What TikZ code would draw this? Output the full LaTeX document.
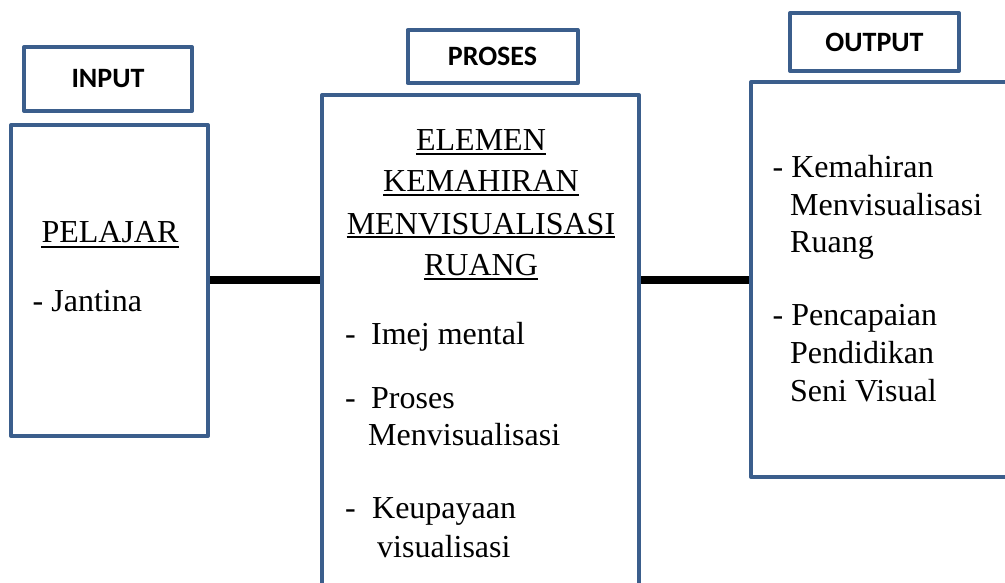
\documentclass[tikz,border=0pt]{standalone}
\usepackage{fontspec}
\setmainfont{Liberation Serif}
\newfontfamily\labelfont{Carlito}
\definecolor{boxblue}{HTML}{3B5E8C}
\tikzset{
  frame/.style={draw=boxblue, line width=4pt, line join=round, rectangle, inner sep=0pt, fill=none},
  link/.style={draw=black, line width=8pt},
  hdr/.style={font=\labelfont\bfseries\fontsize{28}{32}\selectfont, inner sep=0pt},
  txt/.style={font=\fontsize{32}{38}\selectfont, inner sep=0pt},
  uline/.style={draw=black, line width=2pt}
}
\begin{document}
\begin{tikzpicture}[x=1pt,y=-1pt]
\useasboundingbox (0,0) rectangle (1005,583);
\clip (0,0) rectangle (1005,583);
% boxes
\node[frame, minimum width=168pt, minimum height=64pt] (inhdr) at (108,79) {};
\node[frame, minimum width=197pt, minimum height=311pt] (input) at (109.5,280.5) {};
\node[frame, minimum width=170pt, minimum height=53pt] (prohdr) at (492.5,56.5) {};
\node[frame, minimum width=317pt, minimum height=515pt] (proses) at (480.5,352.5) {};
\node[frame, minimum width=169pt, minimum height=58pt] (outhdr) at (874.5,42) {};
\node[frame, minimum width=264pt, minimum height=395pt] (output) at (883,279.5) {};
% header labels
\node[hdr] (inlbl) at (inhdr.center) {INPUT};
\node[hdr] (prolbl) at (prohdr.center) {PROSES};
\node[hdr] (outlbl) at (outhdr.center) {OUTPUT};
% connectors
\draw[link] (input.east |- 0,280) -- (proses.west |- 0,280);
\draw[link] (proses.east |- 0,280) -- (output.west |- 0,280);
% input text
\node[txt, anchor=base] (pelajar) at (110,243) {PELAJAR};
\draw[uline] ([yshift=-4pt]pelajar.base west) -- ([yshift=-4pt]pelajar.base east);
\node[txt, anchor=base west] (jantina) at (32.5,311) {- Jantina};
% proses text
\node[txt, anchor=base] (t1) at (481,151) {ELEMEN};
\node[txt, anchor=base] (t2) at (481,192) {KEMAHIRAN};
\node[txt, anchor=base] (t3) at (481,234) {MENVISUALISASI};
\node[txt, anchor=base] (t4) at (481,276) {RUANG};
\foreach \n in {t1,t2,t3,t4}{
  \draw[uline] ([yshift=-3pt]\n.base west) -- ([yshift=-3pt]\n.base east);
}
\node[txt, anchor=base west] (p1) at (345,344) {\makebox[26pt][l]{-}Imej mental};
\node[txt, anchor=base west] (p2) at (345,408) {\makebox[26pt][l]{-}Proses};
\node[txt, anchor=base west] (p2b) at (368,445) {Menvisualisasi};
\node[txt, anchor=base west] (p3) at (345,518) {\makebox[27pt][l]{-}Keupayaan};
\node[txt, anchor=base west] (p3b) at (377,557) {visualisasi};
% output text
\node[txt, anchor=base west] (o1) at (772.5,178) {- Kemahiran};
\node[txt, anchor=base west] (o1b) at (790,216) {Menvisualisasi};
\node[txt, anchor=base west] (o1c) at (790,252) {Ruang};
\node[txt, anchor=base west] (o2) at (772.5,325) {- Pencapaian};
\node[txt, anchor=base west] (o2b) at (790,363) {Pendidikan};
\node[txt, anchor=base west] (o2c) at (790,401) {Seni Visual};
\end{tikzpicture}
\end{document}
